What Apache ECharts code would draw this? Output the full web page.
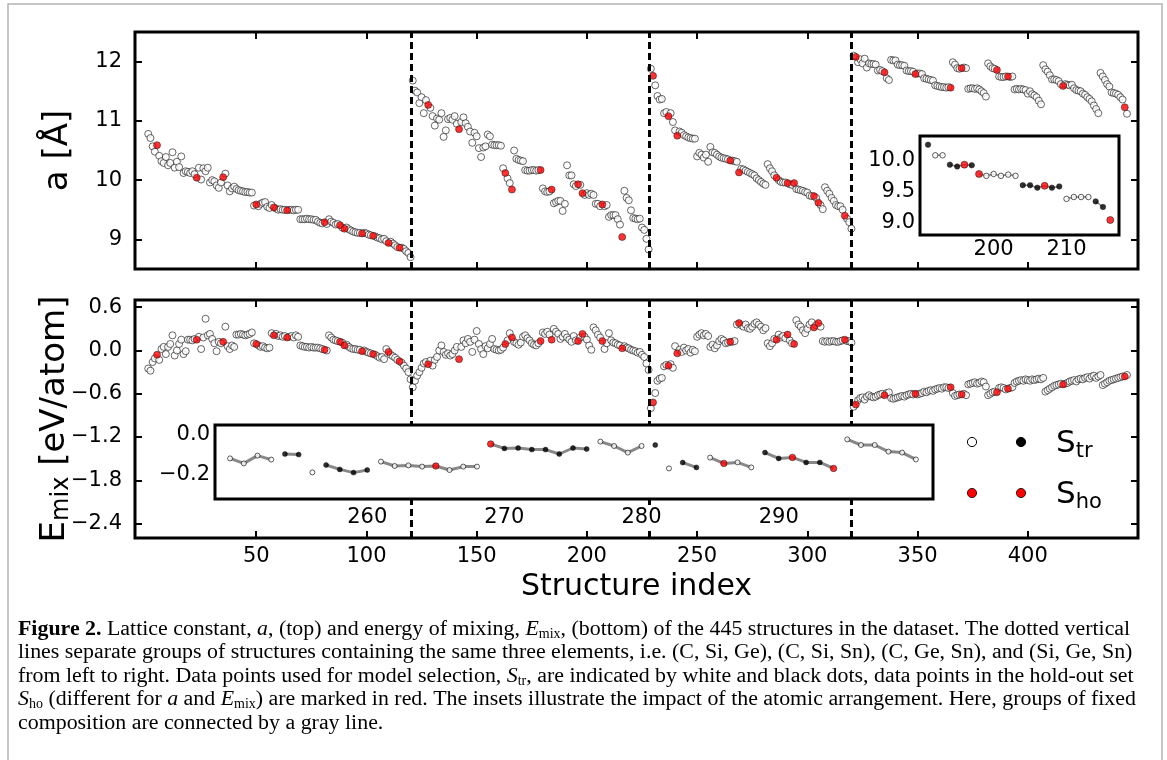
<!DOCTYPE html>
<html><head><meta charset="utf-8">
<script src="https://cdn.jsdelivr.net/npm/echarts@6/dist/echarts.min.js"></script>
<style>html,body{margin:0;padding:0;background:#fff;}#chart{width:1167px;height:760px;}</style>
</head><body><div id="chart"></div>
<script>
// ---------------- data ----------------
const FIRST_INDEX = 1;
const groupBounds = [120.4, 228.5, 319.8];
const xTicks = [50, 100, 150, 200, 250, 300, 350, 400];
const aTicks = [9, 10, 11, 12];
const eTicks = [0.6, 0.0, -0.6, -1.2, -1.8, -2.4];

const aValues = [
10.78,10.71,10.57,10.48,10.59,10.41,10.32,10.29,10.39,10.25,
10.29,10.47,10.21,10.31,10.22,10.40,10.12,10.15,10.14,10.12,
10.15,10.10,10.04,10.21,10.01,10.20,10.15,10.21,9.96,10.00,
9.98,9.91,9.87,9.96,10.05,10.11,9.91,9.81,9.86,9.89,
9.85,9.83,9.82,9.81,9.80,9.80,9.79,9.79,9.57,9.59,
9.56,9.60,9.62,9.63,9.55,9.53,9.58,9.54,9.52,9.50,
9.51,9.50,9.50,9.49,9.50,9.50,9.49,9.50,9.50,9.34,
9.34,9.34,9.35,9.34,9.34,9.33,9.33,9.30,9.28,9.27,
9.29,9.26,9.34,9.30,9.28,9.25,9.26,9.24,9.20,9.18,
9.20,9.17,9.15,9.13,9.12,9.11,9.11,9.10,9.11,9.10,
9.08,9.07,9.06,9.05,9.03,9.02,9.00,9.01,8.97,8.94,
8.96,8.93,8.90,8.87,8.86,8.86,8.84,8.80,8.77,8.70,
11.68,11.51,11.48,11.30,11.40,11.13,11.35,11.27,11.22,11.08,
10.92,11.04,11.02,11.13,10.73,10.84,11.03,11.05,11.02,11.08,
10.95,10.86,10.98,11.06,10.96,10.90,10.82,10.63,10.80,10.74,
10.54,10.39,10.55,10.57,10.77,10.74,10.60,10.59,10.59,10.59,
10.58,10.20,10.12,10.03,9.95,9.84,10.50,10.36,10.34,10.33,
10.32,10.17,10.16,10.16,10.17,10.17,10.16,10.17,10.17,9.86,
9.81,9.80,9.81,9.84,9.61,9.63,9.65,9.65,9.48,9.60,
10.25,10.08,10.08,9.93,9.90,9.93,9.92,9.78,9.75,9.78,
9.75,9.77,9.75,9.60,9.60,9.56,9.59,9.56,9.58,9.38,
9.41,9.41,9.41,9.34,9.25,9.04,9.82,9.70,9.66,9.49,
9.36,9.35,9.34,9.35,9.20,9.16,9.01,8.83,
11.88,11.76,11.60,11.42,11.36,11.37,11.13,11.15,11.08,11.13,
10.98,10.84,10.75,10.82,10.80,10.76,10.74,10.72,10.71,10.70,
10.70,10.40,10.46,10.43,10.38,10.43,10.31,10.56,10.47,10.46,
10.43,10.40,10.38,10.37,10.36,10.35,10.33,10.33,10.32,10.31,
10.13,10.19,10.18,10.16,10.14,10.12,10.10,10.08,10.03,10.00,
9.97,9.94,9.92,10.27,10.20,10.15,10.08,10.04,10.00,9.97,
9.96,9.96,9.95,9.93,9.92,9.95,9.85,9.84,9.83,9.82,
9.80,9.79,9.74,9.73,9.73,9.70,9.62,9.58,9.51,9.88,
9.82,9.77,9.70,9.65,9.58,9.56,9.56,9.50,9.40,9.35,
9.29,9.18,
12.10,12.08,11.99,12.04,11.97,12.05,11.90,11.97,11.96,11.96,
11.95,11.85,11.86,11.84,11.82,11.72,11.69,12.03,12.02,12.02,
11.95,11.94,11.94,11.93,11.85,11.84,11.84,11.83,11.79,11.80,
11.80,11.79,11.72,11.71,11.70,11.69,11.68,11.60,11.59,11.58,
11.57,11.57,11.56,11.57,11.56,11.99,11.95,11.89,11.88,11.89,
11.90,11.89,11.54,11.55,11.55,11.54,11.55,11.53,11.50,11.47,
11.41,11.97,11.92,11.89,11.88,11.86,11.75,11.74,11.74,11.75,
11.75,11.74,11.75,11.53,11.54,11.53,11.54,11.53,11.52,11.46,
11.50,11.45,11.43,11.40,11.34,11.28,11.94,11.87,11.83,11.77,
11.70,11.70,11.69,11.67,11.62,11.59,11.62,11.61,11.60,11.61,
11.55,11.52,11.51,11.50,11.46,11.44,11.40,11.37,11.33,11.26,
11.20,11.13,11.81,11.75,11.69,11.62,11.58,11.48,11.47,11.46,
11.44,11.40,11.36,11.23,11.12
];

const eValues = [
-0.25,-0.28,-0.16,-0.11,-0.06,-0.13,0.02,0.05,-0.05,0.05,
0.09,0.21,-0.07,0.00,0.09,0.15,-0.05,-0.01,0.15,0.15,
0.14,0.16,0.15,0.19,0.02,0.18,0.44,0.21,0.23,0.16,
0.10,-0.01,0.12,0.10,0.12,0.33,0.06,0.02,0.07,0.05,
0.22,0.22,0.23,0.22,0.21,0.22,0.23,0.25,0.10,0.09,
0.07,0.05,0.06,0.04,0.03,0.04,0.24,0.21,0.23,0.20,
0.21,0.19,0.20,0.18,0.19,0.20,0.18,0.21,0.19,0.07,
0.06,0.05,0.05,0.04,0.05,0.04,0.04,0.04,0.03,0.02,
0.01,0.00,0.21,0.18,0.15,0.14,0.13,0.12,0.11,0.07,
0.08,0.05,0.03,0.02,0.02,0.01,0.01,-0.01,0.00,-0.02,
-0.03,-0.04,-0.05,-0.06,-0.08,-0.10,-0.09,-0.12,0.02,-0.02,
-0.06,-0.08,-0.10,-0.13,-0.15,-0.17,-0.21,-0.25,-0.30,-0.40,
-0.51,-0.42,-0.35,-0.30,-0.24,-0.18,-0.16,-0.19,-0.14,-0.21,
-0.13,-0.09,0.00,0.07,-0.02,-0.06,-0.04,-0.07,-0.05,0.00,
0.05,-0.12,0.05,0.14,0.10,0.16,0.12,-0.02,0.15,0.27,
0.09,0.02,-0.05,0.06,0.03,0.09,0.16,0.02,0.01,0.00,
0.01,0.04,0.09,0.14,0.24,0.18,0.12,0.10,0.08,0.11,
0.19,0.21,0.17,0.14,0.10,0.08,0.07,0.10,0.13,0.25,
0.23,0.26,0.22,0.15,0.30,0.26,0.23,0.16,0.19,0.23,
0.18,0.15,0.12,0.20,0.14,0.13,0.18,0.23,0.19,0.15,
0.07,0.01,0.32,0.28,0.22,0.18,0.13,0.02,0.10,0.24,
0.14,0.11,0.10,0.08,0.07,0.03,0.06,0.04,0.03,0.01,
0.00,-0.01,-0.03,-0.02,-0.06,-0.09,-0.18,-0.27,
-0.80,-0.72,-0.59,-0.42,-0.39,-0.38,-0.22,-0.20,-0.21,-0.19,
-0.24,0.06,-0.04,0.01,-0.02,0.04,0.00,0.02,-0.03,0.01,
-0.01,0.19,0.22,0.24,0.21,0.23,0.20,0.05,0.08,0.03,
0.07,0.13,0.16,0.14,0.10,0.11,0.12,0.12,0.13,0.36,
0.38,0.35,0.33,0.36,0.31,0.30,0.33,0.37,0.39,0.36,
0.33,0.28,0.31,0.10,0.06,0.10,0.16,0.15,0.22,0.18,
0.20,0.17,0.22,0.14,0.10,0.09,0.42,0.36,0.33,0.28,
0.24,0.30,0.36,0.39,0.32,0.35,0.38,0.33,0.13,0.12,
0.13,0.12,0.13,0.13,0.12,0.12,0.13,0.14,0.15,0.13,
0.13,0.11,
-0.78,-0.75,-0.69,-0.66,-0.65,-0.68,-0.64,-0.62,-0.64,-0.65,
-0.64,-0.62,-0.61,-0.60,-0.62,-0.59,-0.58,-0.66,-0.67,-0.66,
-0.65,-0.64,-0.63,-0.64,-0.62,-0.61,-0.60,-0.61,-0.60,-0.61,
-0.60,-0.59,-0.57,-0.58,-0.56,-0.55,-0.56,-0.54,-0.53,-0.52,
-0.53,-0.51,-0.51,-0.52,-0.51,-0.59,-0.63,-0.62,-0.61,-0.61,
-0.60,-0.62,-0.47,-0.46,-0.45,-0.44,-0.46,-0.45,-0.43,-0.44,
-0.50,-0.62,-0.60,-0.58,-0.57,-0.58,-0.52,-0.51,-0.52,-0.54,
-0.53,-0.52,-0.51,-0.45,-0.43,-0.42,-0.41,-0.42,-0.40,-0.41,
-0.42,-0.40,-0.41,-0.40,-0.39,-0.40,-0.38,-0.57,-0.55,-0.53,
-0.51,-0.49,-0.48,-0.47,-0.46,-0.47,-0.46,-0.45,-0.43,-0.42,
-0.41,-0.43,-0.40,-0.39,-0.40,-0.38,-0.37,-0.39,-0.36,-0.35,
-0.38,-0.36,-0.34,-0.48,-0.46,-0.44,-0.42,-0.41,-0.40,-0.39,
-0.38,-0.37,-0.36,-0.36,-0.34
];

const aHoldout = [5,23,35,50,58,64,81,88,90,98,103,110,115,128,142,163,166,179,184,196,198,207,216,230,237,241,265,269,286,291,294,303,305,317,322,335,349,365,370,386,391,416,444];
const eHoldout = [5,23,35,50,58,64,81,88,90,98,103,110,115,128,142,163,166,179,184,196,198,207,216,230,237,241,265,269,286,291,294,303,305,317,322,335,349,365,370,386,391,416,444];

// inset of a (indices 191..216, values taken from aValues)
const insetAStart = 191;
const insetAGroupSizes = [1, 2, 4, 6, 6, 4, 2, 1];
const insetAGroupFill = ['k', 'w', 'k', 'w', 'k', 'w', 'k', 'w'];
const insetAHoldout = [196, 198, 207, 216];
const insetAXTicks = [200, 210];
const insetAYTicks = [10.0, 9.5, 9.0];

// inset of E_mix (indices 250..300)
const insetEStart = 250;
const insetEValues = [
-0.117,-0.142,-0.103,-0.123,
-0.095,-0.098,
-0.187,
-0.150,-0.172,-0.188,-0.175,
-0.133,-0.155,-0.152,-0.158,-0.155,-0.175,-0.158,-0.158,
-0.045,-0.067,-0.065,-0.073,-0.073,-0.095,-0.065,-0.070,
-0.033,-0.055,-0.088,-0.055,
-0.050,
-0.167,
-0.138,-0.162,
-0.113,-0.142,-0.137,-0.162,
-0.088,-0.117,-0.112,-0.137,-0.137,-0.167,
-0.022,-0.050,-0.050,-0.083,-0.088,-0.122
];
const insetEGroupSizes = [4, 2, 1, 4, 8, 8, 4, 1, 1, 2, 4, 6, 6];
const insetEGroupFill = ['w','k','w','k','w','k','w','k','w','k','w','k','w'];
const insetEHoldout = [265, 269, 286, 291, 294];
const insetEXTicks = [260, 270, 280, 290];
const insetEYTicks = [0.0, -0.2];

const captionLines = [
  '{b|Figure 2.} Lattice constant, {i|a}, (top) and energy of mixing, {i|E}{s|mix}, (bottom) of the 445 structures in the dataset. The dotted vertical',
  'lines separate groups of structures containing the same three elements, i.e. (C, Si, Ge), (C, Si, Sn), (C, Ge, Sn), and (Si, Ge, Sn)',
  'from left to right. Data points used for model selection, {i|S}{s|tr}, are indicated by white and black dots, data points in the hold-out set',
  '{i|S}{s|ho} (different for {i|a} and {i|E}{s|mix}) are marked in red. The insets illustrate the impact of the atomic arrangement. Here, groups of fixed',
  'composition are connected by a gray line.'
];

// ---------------- helpers ----------------
const FONT = 'DejaVu Sans';
const SERIF = 'Liberation Serif';
const CAP = 21.9;
const K = '#000';
function fmt(v, d) { const s = Math.abs(v).toFixed(d); return (v < -1e-9 ? '\u2212' : '') + s; }
function splitMain(values, holdout) {
  const tr = [], ho = [];
  values.forEach((v, k) => { const i = k + FIRST_INDEX; (holdout.includes(i) ? ho : tr).push([i, v]); });
  return { tr, ho };
}
function plainAxis(gridIndex, position, min, max, ticks, extra) {
  return Object.assign({
    gridIndex, type: 'value', position, min, max,
    axisLine: { show: false, onZero: false }, splitLine: { show: false },
    axisTick: ticks ? { show: true, inside: true, length: 7, customValues: ticks, lineStyle: { color: K, width: 2 } } : { show: false },
    axisLabel: { show: false }
  }, extra || {});
}
function labels(vals, formatter, margin, bg) {
  const l = { show: true, customValues: vals, formatter, fontSize: 21, fontFamily: FONT, color: K, margin };
  if (bg) { l.backgroundColor = '#fff'; l.padding = [2, 1, 2, 1]; }
  return l;
}
function insetSeries(start, vals, sizes, fills, holdout, xi, yi, o) {
  const out = []; const white = [], black = [], red = []; let k = 0;
  sizes.forEach((n, g) => {
    const pts = [];
    for (let j = 0; j < n; j++) {
      const idx = start + k, v = vals[k];
      pts.push([idx, v]);
      if (holdout.includes(idx)) red.push([idx, v]);
      else (fills[g] === 'k' ? black : white).push([idx, v]);
      k++;
    }
    if (n > 1) out.push({ type: 'line', xAxisIndex: xi, yAxisIndex: yi, data: pts, symbol: 'none',
      lineStyle: { color: '#888', width: o.lw }, z: 11, silent: true });
  });
  out.push({ type: 'scatter', xAxisIndex: xi, yAxisIndex: yi, data: white, symbolSize: o.s,
    itemStyle: { color: '#fff', borderColor: K, borderWidth: 0.8 }, z: 12, silent: true });
  out.push({ type: 'scatter', xAxisIndex: xi, yAxisIndex: yi, data: black, symbolSize: o.s,
    itemStyle: { color: K, borderColor: K, borderWidth: 0.5 }, z: 12, silent: true });
  out.push({ type: 'scatter', xAxisIndex: xi, yAxisIndex: yi, data: red, symbolSize: o.r,
    itemStyle: { color: '#ff0000', borderColor: K, borderWidth: 0.6 }, z: 13, silent: true });
  return out;
}

// ---------------- option ----------------
const aSplit = splitMain(aValues, aHoldout);
const eSplit = splitMain(eValues, eHoldout);
const insetAValues = aValues.slice(insetAStart - FIRST_INDEX, insetAStart - FIRST_INDEX + insetAGroupSizes.reduce((s, n) => s + n, 0));

const dashLines = {
  silent: true, symbol: 'none', label: { show: false },
  lineStyle: { type: [7, 4], color: K, width: 3 },
  data: groupBounds.map(x => ({ xAxis: x }))
};
const whiteStyle = { color: '#fff', borderColor: '#111', borderWidth: 0.8 };
const redStyle = { color: '#ff0000', borderColor: '#111', borderWidth: 0.6 };

const gridBase = { show: true, borderColor: K, borderWidth: 3, backgroundColor: 'transparent', outerBoundsMode: 'none', containLabel: false };

const option = {
  animation: false,
  backgroundColor: '#fff',
  grid: [
    Object.assign({ left: 135, top: 32, width: 1003, height: 237 }, gridBase),
    Object.assign({ left: 135, top: 300, width: 1003, height: 238 }, gridBase),
    Object.assign({}, gridBase, { left: 920, top: 136, width: 199, height: 99, backgroundColor: '#fff', z: 10 }),
    Object.assign({}, gridBase, { left: 215, top: 425, width: 718, height: 74, backgroundColor: '#fff', z: 10 })
  ],
  xAxis: [
    plainAxis(0, 'bottom', -5, 450, xTicks),
    plainAxis(0, 'top', -5, 450, xTicks),
    plainAxis(1, 'bottom', -5, 450, xTicks, {
      axisLabel: labels(xTicks, v => String(v), 8),
      name: 'Structure index', nameLocation: 'middle', nameGap: 34, nameMoveOverlap: false,
      nameTextStyle: { fontSize: 30, fontFamily: FONT, color: K }
    }),
    plainAxis(1, 'top', -5, 450, xTicks),
    plainAxis(2, 'bottom', 189.9, 217.2, null, { axisLabel: labels(insetAXTicks, v => String(v), 4), z: 14 }),
    plainAxis(3, 'bottom', 248.9, 301.25, null, { axisLabel: labels(insetEXTicks, v => String(v), 6, true), z: 14 })
  ],
  yAxis: [
    plainAxis(0, 'left', 8.5, 12.5, aTicks, {
      axisLabel: labels(aTicks, v => String(v), 13),
      name: 'a [\u00c5]', nameLocation: 'middle', nameGap: 60, nameRotate: 90, nameMoveOverlap: false,
      nameTextStyle: { fontSize: 34, fontFamily: FONT, color: K }
    }),
    plainAxis(0, 'right', 8.5, 12.5, aTicks),
    plainAxis(1, 'left', -2.6, 0.7, eTicks, {
      axisLabel: labels(eTicks, v => fmt(v, 1), 13),
      name: '{e|E}{m|mix}{e| [eV/atom]}', nameLocation: 'middle', nameGap: 61, nameRotate: 90, nameMoveOverlap: false,
      nameTextStyle: { fontSize: 34, fontFamily: FONT, color: K,
        rich: { e: { fontSize: 34, fontFamily: FONT, color: K, lineHeight: 38 },
                m: { fontSize: 24, fontFamily: FONT, color: K, verticalAlign: 'bottom', lineHeight: 20 } } }
    }),
    plainAxis(1, 'right', -2.6, 0.7, eTicks),
    plainAxis(2, 'left', 8.8, 10.39, null, { axisLabel: labels(insetAYTicks, v => fmt(v, 1), 5), z: 14 }),
    plainAxis(3, 'left', -0.32, 0.05, null, { axisLabel: labels(insetEYTicks, v => fmt(v, 1), 5), z: 14 })
  ],
  series: [
    { type: 'scatter', xAxisIndex: 0, yAxisIndex: 0, data: aSplit.tr, symbolSize: 7, itemStyle: whiteStyle, z: 3, silent: true, markLine: dashLines },
    { type: 'scatter', xAxisIndex: 0, yAxisIndex: 0, data: aSplit.ho, symbolSize: 7, itemStyle: redStyle, z: 4, silent: true },
    { type: 'scatter', xAxisIndex: 2, yAxisIndex: 2, data: eSplit.tr, symbolSize: 7, itemStyle: whiteStyle, z: 3, silent: true, markLine: dashLines },
    { type: 'scatter', xAxisIndex: 2, yAxisIndex: 2, data: eSplit.ho, symbolSize: 7, itemStyle: redStyle, z: 4, silent: true }
  ].concat(
    insetSeries(insetAStart, insetAValues, insetAGroupSizes, insetAGroupFill, insetAHoldout, 4, 4, { lw: 1.5, s: 5.5, r: 7 }),
    insetSeries(insetEStart, insetEValues, insetEGroupSizes, insetEGroupFill, insetEHoldout, 5, 5, { lw: 3, s: 5, r: 6.5 })
  ),
  graphic: [
    { type: 'rect', shape: { x: 8, y: 4, width: 1154, height: 800 }, style: { fill: 'none', stroke: '#b4b4b4', lineWidth: 1.5 }, z: -10, silent: true },
    // legend
    { type: 'circle', shape: { cx: 972, cy: 442, r: 4.6 }, style: { fill: '#fff', stroke: K, lineWidth: 1 }, z: 20 },
    { type: 'circle', shape: { cx: 1021, cy: 442, r: 4.6 }, style: { fill: K, stroke: K, lineWidth: 1 }, z: 20 },
    { type: 'circle', shape: { cx: 972, cy: 493, r: 4.6 }, style: { fill: '#ff0000', stroke: K, lineWidth: 0.8 }, z: 20 },
    { type: 'circle', shape: { cx: 1021, cy: 493, r: 4.6 }, style: { fill: '#ff0000', stroke: K, lineWidth: 0.8 }, z: 20 },
    { type: 'text', x: 1056, y: 444, z: 20, style: { text: '{s|S}{b|tr}', verticalAlign: 'middle', fill: K,
      rich: { s: { fontSize: 31, fontFamily: FONT, fill: K, lineHeight: 36 }, b: { fontSize: 21, fontFamily: FONT, fill: K, verticalAlign: 'bottom', lineHeight: 18 } } } },
    { type: 'text', x: 1056, y: 495, z: 20, style: { text: '{s|S}{b|ho}', verticalAlign: 'middle', fill: K,
      rich: { s: { fontSize: 31, fontFamily: FONT, fill: K, lineHeight: 36 }, b: { fontSize: 21, fontFamily: FONT, fill: K, verticalAlign: 'bottom', lineHeight: 18 } } } }
  ].concat(captionLines.map((line, n) => ({
    type: 'text', x: 18, y: 629 + n * 23.5, z: 20, silent: true,
    style: { text: line, fontSize: CAP, fontFamily: SERIF, fill: K, verticalAlign: 'middle', lineHeight: 24,
      rich: {
        b: { fontWeight: 'bold', fontSize: CAP, fontFamily: SERIF, fill: K, lineHeight: 24 },
        i: { fontStyle: 'italic', fontSize: CAP, fontFamily: SERIF, fill: K, lineHeight: 24 },
        s: { fontSize: 14, fontFamily: SERIF, fill: K, verticalAlign: 'bottom', lineHeight: 14 }
      } }
  })))
};

const chart = echarts.init(document.getElementById('chart'));
chart.setOption(option);
</script></body></html>
